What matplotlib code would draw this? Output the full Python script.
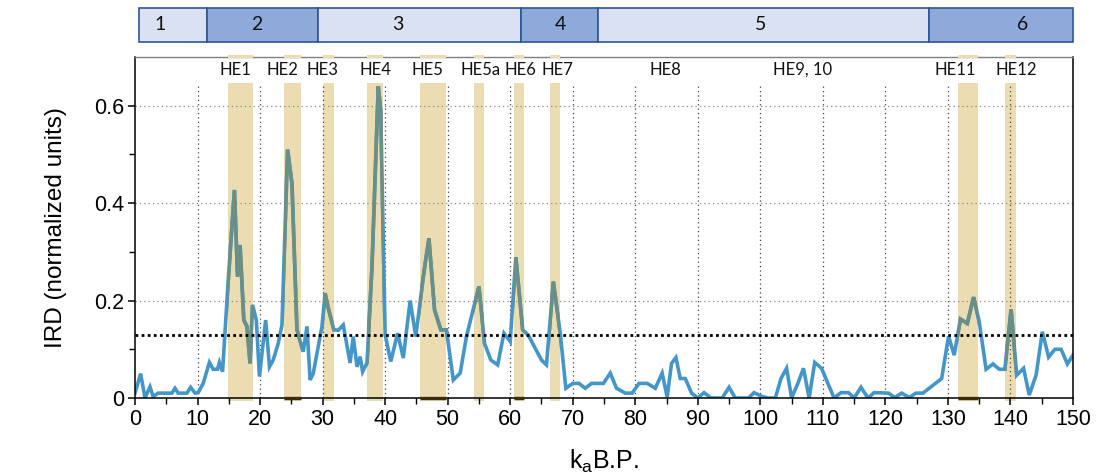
import matplotlib.pyplot as plt
import numpy as np
from matplotlib.patches import Rectangle
from matplotlib.path import Path
from matplotlib.transforms import Affine2D

# IRD record, ka B.P. vs normalized units
age = [0, 0.9, 1.6, 2.4, 2.9, 3.7, 5.9, 6.4, 6.9, 8.3, 8.9, 9.6, 10.1, 10.9,
       11.9, 12.5, 13.2, 13.5, 14.0, 14.9, 15.9, 16.4, 16.8, 17.4, 17.9, 18.4,
       18.8, 19.4, 19.9, 20.9, 21.5, 22.1, 22.9, 23.5, 24.4, 25.1, 25.9, 26.9,
       27.5, 28.0, 28.5, 29.9, 30.4, 30.9, 31.8, 32.5, 33.3, 34.4, 34.9, 35.5,
       36.0, 36.4, 37.1, 37.9, 38.9, 39.3, 40.0, 40.9, 42.0, 42.9, 44.0, 44.9,
       46.1, 47.0, 47.9, 48.9, 49.8, 50.9, 52.0, 53.0, 55.0, 55.9, 56.9, 58.0,
       59.0, 60.0, 60.9, 62.0, 62.9, 64.0, 65.0, 65.8, 66.9, 68.0, 68.9, 70.0,
       71.0, 72.0, 73.0, 74.9, 76.0, 77.0, 78.4, 79.5, 80.6, 81.9, 83.2, 84.3,
       85.1, 85.8, 86.5, 87.2, 88.0, 89.0, 90.0, 91.0, 92.1, 93.9, 95.0, 96.0,
       98.1, 99.0, 100.1, 101.2, 102.4, 103.3, 104.2, 105.0, 106.0, 106.9,
       107.8, 108.7, 109.8, 110.8, 111.8, 112.9, 114.1, 115.0, 116.1, 117.2,
       118.2, 120.5, 121.5, 122.6, 123.8, 124.9, 126.0, 129.0, 130.1, 131.0,
       132.0, 133.1, 134.1, 135.0, 136.1, 137.2, 138.2, 139.1, 140.1, 141.0,
       142.1, 143.0, 144.1, 145.1, 146.1, 147.1, 148.1, 149.1, 150.0]
ird = [0.01, 0.05, 0.0, 0.023, 0.003, 0.01, 0.01, 0.02, 0.01, 0.01, 0.022,
       0.01, 0.011, 0.03, 0.073, 0.059, 0.059, 0.073, 0.054, 0.24, 0.427,
       0.249, 0.314, 0.16, 0.147, 0.071, 0.191, 0.16, 0.044, 0.16, 0.064,
       0.078, 0.112, 0.15, 0.51, 0.44, 0.14, 0.095, 0.147, 0.037, 0.05, 0.147,
       0.215, 0.185, 0.14, 0.139, 0.15, 0.072, 0.126, 0.064, 0.085, 0.054,
       0.072, 0.27, 0.64, 0.59, 0.13, 0.075, 0.133, 0.082, 0.2, 0.126, 0.249,
       0.328, 0.181, 0.14, 0.14, 0.037, 0.051, 0.126, 0.229, 0.112, 0.078,
       0.068, 0.133, 0.116, 0.289, 0.14, 0.129, 0.102, 0.078, 0.068, 0.239,
       0.133, 0.02, 0.03, 0.03, 0.02, 0.03, 0.03, 0.051, 0.02, 0.01, 0.01,
       0.03, 0.03, 0.02, 0.051, 0.002, 0.071, 0.083, 0.04, 0.04, 0.01, 0.0,
       0.011, 0.0, 0.0, 0.022, 0.0, 0.0, 0.011, 0.004, 0.0, 0.0, 0.04, 0.061,
       0.0, 0.03, 0.061, 0.0, 0.073, 0.061, 0.03, 0.0, 0.011, 0.011, 0.0,
       0.022, 0.0, 0.011, 0.01, 0.001, 0.01, 0.001, 0.01, 0.01, 0.04, 0.127,
       0.088, 0.162, 0.153, 0.207, 0.157, 0.059, 0.07, 0.059, 0.059, 0.182,
       0.047, 0.061, 0.006, 0.047, 0.136, 0.084, 0.1, 0.1, 0.07, 0.088]
threshold = 0.13

# Heinrich events: label, label position, band start/end (ka)
he_names = ["HE1", "HE2", "HE3", "HE4", "HE5", "HE5a", "HE6", "HE7",
            "HE8", "HE9, 10", "HE11", "HE12"]
he_label_x = [16.0, 23.5, 30.0, 38.4, 46.7, 55.3, 61.7, 67.6,
              84.8, 106.8, 131.1, 141.0]
band_start = [14.9, 23.8, 30.1, 37.1, 45.6, 54.2, 60.6, 66.4, 131.6, 139.1]
band_end = [18.9, 26.5, 31.8, 39.7, 49.7, 55.8, 62.2, 68.0, 134.8, 140.9]
band_marked = [False, True, False, False, True, False, True, False, True, False]

# marine isotope stages strip
mis_edges = [0.6, 11.5, 29.3, 61.7, 74.0, 127.0, 150.0]
mis_labels = ["1", "2", "3", "4", "5", "6"]
mis_label_x = [4.0, 19.4, 42.1, 68.1, 100.0, 142.0]

xticks = list(range(0, 151, 10))
yticks = [0, 0.2, 0.4, 0.6]
ytick_labels = ["0", "0.2", "0.4", "0.6"]

narrow = ["Liberation Sans Narrow", "Liberation Sans"]
plt.rcParams["mathtext.fontset"] = "custom"
plt.rcParams["mathtext.rm"] = "Liberation Sans"

line_color = "#4596c8"
band_color = "#ebdcb1"

fig = plt.figure(figsize=(11.07, 4.76), dpi=100)
ax = fig.add_axes([135 / 1107, 78 / 476, 938 / 1107, 341 / 476])
ax.set_xlim(0, 150)
ax.set_ylim(0, 0.70)

band_top = 0.647
for x0, x1, marked in zip(band_start, band_end, band_marked):
    ax.add_patch(Rectangle((x0, -0.006), x1 - x0, band_top + 0.006,
                           facecolor=band_color, edgecolor="none",
                           zorder=0.5, clip_on=False))
    ax.add_patch(Rectangle((x0, 0.697), x1 - x0, 0.008,
                           facecolor=band_color, edgecolor="none",
                           zorder=3, clip_on=False))
    if marked:
        ax.plot([x0, x1], [0, 0], color="#3b2d0c", lw=2.4,
                solid_capstyle="butt", zorder=4, clip_on=False)

# grid
for gx in xticks[1:-1]:
    ax.plot([gx, gx], [0, band_top], color="#444444", lw=0.9,
            ls=(0, (1, 2.5)), zorder=1)
for gy in yticks[1:]:
    ax.axhline(gy, color="#888888", lw=0.9, ls=(0, (1, 2.5)), zorder=1)

ax.plot(age, ird, color=line_color, lw=2.6, zorder=2, solid_joinstyle="miter")

# same series tinted where it crosses the event bands
rects = [Path.unit_rectangle().transformed(
    Affine2D().scale(x1 - x0, 1).translate(x0, 0))
    for x0, x1 in zip(band_start, band_end)]
clip = Path.make_compound_path(*rects)
tinted, = ax.plot(age, ird, color="#6a8f87", lw=2.6, zorder=2.1,
                  solid_joinstyle="miter")
tinted.set_clip_path(clip, ax.transData)

ax.axhline(threshold, color="black", lw=2.0, ls=(0, (1, 1.2)), zorder=3)

# blank strip holding the event labels
ax.add_patch(Rectangle((0, band_top), 150, 0.70 - band_top,
                       facecolor="white", edgecolor="none", zorder=1.5))
for name, lx in zip(he_names, he_label_x):
    ax.text(lx, 0.674, name, ha="center", va="center", fontsize=12,
            family="Lato", color="#111111", zorder=5)

ax.set_xticks(xticks)
ax.set_xticks(np.arange(5, 150, 10), minor=True)
ax.set_yticks(yticks)
ax.set_yticklabels(ytick_labels)
ax.set_yticks([0.1, 0.3, 0.5], minor=True)
ax.tick_params(which="major", length=5, width=1.1, labelsize=15.5, pad=3)
ax.tick_params(which="minor", length=4, width=1.0)
for lab in ax.get_xticklabels() + ax.get_yticklabels():
    lab.set_family(narrow)

for side in ["left", "bottom", "right"]:
    ax.spines[side].set_color("black")
    ax.spines[side].set_linewidth(1.1)
ax.spines["top"].set_color("#808080")
ax.spines["top"].set_linewidth(1.0)

ax.set_ylabel("IRD (normalized units)", fontsize=17.5, family="Liberation Sans")
ax.yaxis.set_label_coords(-0.0725, 0.5)
ax.set_xlabel(r"k$_\mathregular{a}$B.P.", fontsize=18, family=narrow)
ax.xaxis.set_label_coords(0.5, -0.145)

# stage strip above the plot
bar_ax = fig.add_axes([135 / 1107, 434 / 476, 938 / 1107, 34 / 476])
bar_ax.set_xlim(0, 150)
bar_ax.set_ylim(0, 1)
bar_ax.axis("off")
for i, (x0, x1) in enumerate(zip(mis_edges[:-1], mis_edges[1:])):
    fill = "#dae1f3" if i % 2 == 0 else "#8eaadb"
    bar_ax.add_patch(Rectangle((x0, 0), x1 - x0, 1, facecolor=fill,
                               edgecolor="#2f5597", lw=1.2, clip_on=False))
for lab, lx in zip(mis_labels, mis_label_x):
    bar_ax.text(lx, 0.5, lab, ha="center", va="center", fontsize=14,
                family="Lato", color="#111111")

fig.savefig("out.png", dpi=100)
plt.close(fig)
